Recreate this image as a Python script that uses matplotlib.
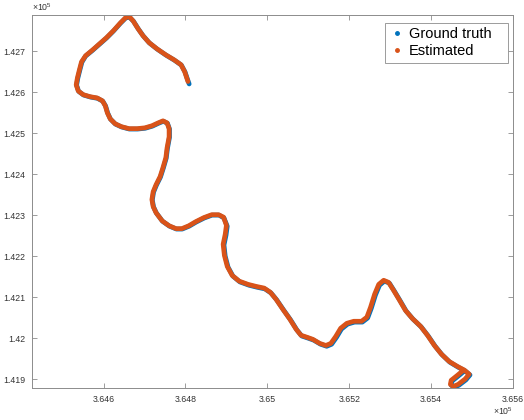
import matplotlib
matplotlib.use("Agg")
import matplotlib.pyplot as plt
from matplotlib.lines import Line2D
from matplotlib.patches import Rectangle
from matplotlib.ticker import FuncFormatter, MultipleLocator

plt.rcParams['font.family'] = ['Liberation Sans', 'DejaVu Sans']
plt.rcParams['mathtext.fontset'] = 'custom'
plt.rcParams['mathtext.rm'] = 'Liberation Sans'

# trajectory (easting / northing)
gt_x = [364809, 364804, 364799, 364790, 364773, 364753, 364731, 364712, 364697, 364685,
        364673, 364663, 364654, 364641, 364624, 364607, 364590, 364573, 364556, 364547,
        364542, 364537, 364534, 364539, 364551, 364568, 364585, 364598, 364605, 364610,
        364617, 364629, 364644, 364663, 364683, 364702, 364719, 364734, 364746, 364756,
        364761, 364761, 364756, 364753, 364746, 364739, 364729, 364722, 364719, 364722,
        364729, 364744, 364761, 364778, 364792, 364809, 364826, 364846, 364865, 364882,
        364894, 364902, 364899, 364894, 364897, 364904, 364916, 364933, 364955, 364975,
        364994, 365009, 365023, 365040, 365057, 365072, 365084, 365099, 365113, 365130,
        365145, 365157, 365169, 365181, 365196, 365213, 365232, 365245, 365254, 365264,
        365274, 365286, 365298, 365310, 365325, 365339, 365356, 365376, 365393, 365410,
        365427, 365446, 365466, 365483, 365495, 365485, 365468, 365456, 365449, 365451,
        365466, 365478]
gt_y = [142620, 142634, 142649, 142666, 142678, 142690, 142705, 142720, 142737, 142754,
        142773, 142783, 142781, 142768, 142749, 142732, 142717, 142702, 142688, 142673,
        142654, 142634, 142617, 142602, 142593, 142588, 142585, 142578, 142566, 142549,
        142534, 142522, 142515, 142510, 142510, 142512, 142517, 142524, 142529, 142524,
        142510, 142490, 142463, 142439, 142415, 142393, 142373, 142356, 142337, 142320,
        142305, 142285, 142273, 142266, 142266, 142273, 142283, 142293, 142300, 142300,
        142293, 142273, 142251, 142227, 142200, 142173, 142151, 142137, 142129, 142124,
        142120, 142110, 142093, 142068, 142044, 142020, 142005, 142000, 141995, 141985,
        141980, 141985, 142002, 142022, 142034, 142039, 142039, 142049, 142073, 142105,
        142129, 142139, 142134, 142115, 142090, 142066, 142046, 142027, 142005, 141980,
        141959, 141941, 141929, 141920, 141910, 141898, 141885, 141880, 141885, 141895,
        141907, 141917]

est_x = [364806, 364803, 364798, 364789, 364772, 364752, 364730, 364711, 364696, 364684,
         364672, 364663, 364654, 364641, 364624, 364607, 364590, 364573, 364556, 364546,
         364541, 364536, 364533, 364538, 364550, 364567, 364584, 364597, 364604, 364609,
         364616, 364628, 364643, 364662, 364682, 364701, 364718, 364733, 364745, 364755,
         364760, 364760, 364755, 364752, 364745, 364738, 364728, 364721, 364718, 364721,
         364728, 364743, 364760, 364777, 364791, 364808, 364825, 364845, 364864, 364881,
         364893, 364900, 364897, 364892, 364895, 364902, 364914, 364931, 364953, 364973,
         364992, 365007, 365021, 365038, 365055, 365070, 365082, 365097, 365111, 365128,
         365143, 365155, 365167, 365179, 365194, 365211, 365230, 365243, 365252, 365262,
         365272, 365284, 365296, 365308, 365323, 365337, 365354, 365374, 365391, 365408,
         365425, 365444, 365464, 365481, 365493, 365483, 365466, 365454, 365447, 365449,
         365464, 365476]
est_y = [142626, 142635, 142650, 142667, 142679, 142691, 142706, 142721, 142738, 142755,
         142774, 142784, 142782, 142769, 142750, 142733, 142718, 142703, 142689, 142674,
         142655, 142635, 142618, 142603, 142594, 142589, 142586, 142579, 142567, 142550,
         142535, 142523, 142516, 142511, 142511, 142513, 142518, 142525, 142530, 142525,
         142511, 142491, 142464, 142440, 142416, 142394, 142374, 142357, 142338, 142321,
         142306, 142286, 142274, 142267, 142267, 142274, 142284, 142294, 142301, 142301,
         142295, 142275, 142253, 142229, 142202, 142175, 142153, 142139, 142131, 142126,
         142122, 142112, 142095, 142070, 142046, 142022, 142007, 142002, 141997, 141987,
         141982, 141987, 142004, 142024, 142036, 142041, 142041, 142051, 142075, 142107,
         142131, 142141, 142136, 142117, 142092, 142068, 142048, 142029, 142007, 141982,
         141961, 141943, 141931, 141922, 141912, 141900, 141887, 141882, 141887, 141897,
         141909, 141919]

blue = '#0072BD'
orange = '#D95319'

fig = plt.figure(figsize=(5.24, 4.2), dpi=100)
ax = fig.add_axes([0.061, 0.076, 0.918, 0.888])

ax.plot(gt_x, gt_y, color=blue, lw=3.4, solid_capstyle='round', solid_joinstyle='round')
ax.plot(est_x, est_y, color=orange, lw=3.4, solid_capstyle='round', solid_joinstyle='round')

ax.set_xlim(364425, 365600)
ax.set_ylim(141878, 142788)
ax.xaxis.set_major_locator(MultipleLocator(200))
ax.yaxis.set_major_locator(MultipleLocator(100))
fmt = FuncFormatter(lambda v, p: '%g' % round(v / 1e5, 6))
ax.xaxis.set_major_formatter(fmt)
ax.yaxis.set_major_formatter(fmt)

for s in ax.spines.values():
    s.set_color('#8c8c8c')
    s.set_linewidth(0.7)
ax.tick_params(direction='in', length=3.5, width=0.6, color='#8c8c8c',
               labelsize=6.3, labelcolor='#333333', top=True, right=True, pad=5)

fig.text(0.061, 0.970, r'$\times 10^{5}$', fontsize=6.3, color='#333333', ha='left', va='bottom')
fig.text(0.979, 0.006, r'$\times 10^{5}$', fontsize=6.3, color='#333333', ha='right', va='bottom')

# legend box, MATLAB style (wider on the right)
ax.add_patch(Rectangle((0.734, 0.871), 0.2557, 0.107, transform=ax.transAxes,
                       facecolor='white', edgecolor='#8c8c8c', lw=0.6, zorder=5))
handles = [Line2D([], [], ls='none', marker='.', ms=5, color=blue),
           Line2D([], [], ls='none', marker='.', ms=5, color=orange)]
leg = ax.legend(handles, ['Ground truth', 'Estimated'], loc='upper left',
                bbox_to_anchor=(0.734, 0.979), borderaxespad=0, fontsize=10.5,
                frameon=False, handlelength=1.0, handletextpad=0.32,
                labelspacing=0.2, borderpad=0.3)
leg.set_zorder(6)

fig.savefig('out.png', dpi=100)
